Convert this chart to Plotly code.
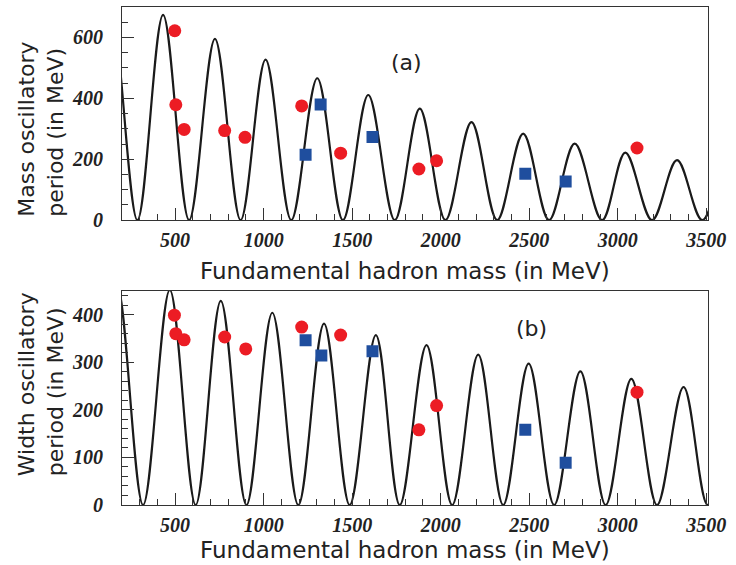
import plotly.graph_objects as go

# ---- curve knots (peaks and zeros) ----
mass_curve_x = [0, 141, 287, 432, 579, 725, 870, 1011, 1156, 1303, 1448, 1591, 1741,
                1882, 2027, 2174, 2319, 2466, 2612, 2757, 2912, 3043, 3194, 3335, 3478, 3620, 3770]
mass_curve_y = [0, 675, 0, 674, 0, 595, 0, 527, 0, 466, 0, 411, 0,
                366, 0, 322, 0, 284, 0, 251, 0, 222, 0, 197, 0, 175, 0]

width_curve_x = [25, 172, 319, 470, 616, 758, 903, 1049, 1196, 1341, 1486, 1634, 1769,
                 1920, 2065, 2212, 2353, 2497, 2641, 2789, 2932, 3077, 3222, 3372, 3508, 3650, 3800]
width_curve_y = [0, 462, 0, 452, 0, 429, 0, 404, 0, 381, 0, 357, 0,
                 336, 0, 316, 0, 297, 0, 281, 0, 265, 0, 248, 0, 235, 0]

# ---- points ----
mass_red_x = [498, 504, 551, 780, 895, 1215, 1435, 1877, 1977, 3109]
mass_red_y = [622, 379, 298, 294, 272, 375, 220, 168, 195, 237]
mass_blue_x = [1237, 1322, 1615, 2478, 2706]
mass_blue_y = [215, 380, 273, 152, 127]

width_red_x = [496, 504, 551, 780, 899, 1215, 1435, 1877, 1977, 3109]
width_red_y = [399, 360, 347, 353, 328, 374, 357, 158, 209, 237]
width_blue_x = [1237, 1326, 1615, 2478, 2706]
width_blue_y = [346, 314, 323, 158, 89]

x_title = "Fundamental hadron mass (in MeV)"
y_title_a = "Mass oscillatory<br>period (in MeV)"
y_title_b = "Width oscillatory<br>period (in MeV)"

RED = "#ec1c24"
BLUE = "#1f4e9e"

fig = go.Figure()

def add_panel(cx, cy, rx, ry, bx, by, xa, ya):
    fig.add_trace(go.Scatter(x=cx, y=cy, mode="lines", line=dict(color="#1a1a1a", width=2.2,
                  shape="spline", smoothing=1), xaxis=xa, yaxis=ya, showlegend=False,
                  hoverinfo="skip"))
    fig.add_trace(go.Scatter(x=rx, y=ry, mode="markers", marker=dict(color=RED, size=13,
                  symbol="circle", line=dict(width=0)), xaxis=xa, yaxis=ya, showlegend=False))
    fig.add_trace(go.Scatter(x=bx, y=by, mode="markers", marker=dict(color=BLUE, size=12,
                  symbol="square", line=dict(width=0)), xaxis=xa, yaxis=ya, showlegend=False))

add_panel(mass_curve_x, mass_curve_y, mass_red_x, mass_red_y, mass_blue_x, mass_blue_y, "x", "y")
add_panel(width_curve_x, width_curve_y, width_red_x, width_red_y, width_blue_x, width_blue_y, "x2", "y2")

tickfont = dict(family="Liberation Serif", size=20, color="#222222", weight="bold", style="italic")
FONT = "DejaVu Sans"
TXT = "#222222"

def xaxis_def(anchor):
    return dict(anchor=anchor, range=[200, 3510], tick0=500, dtick=500, ticks="inside",
                ticklen=12, tickwidth=1.2, tickcolor="#333", showline=True, linecolor="#333",
                linewidth=1.2, mirror=True, showgrid=False, zeroline=False, tickfont=tickfont,
                ticklabelstandoff=2, domain=[0, 1],
                minor=dict(dtick=100, ticks="inside", ticklen=6, tickcolor="#333", tickwidth=1))

def yaxis_def(anchor, rng, dtick, minor, domain):
    return dict(anchor=anchor, range=rng, dtick=dtick, ticks="inside", ticklen=12,
                tickwidth=1.2, tickcolor="#333", showline=True, linecolor="#333",
                linewidth=1.2, mirror=True, showgrid=False, zeroline=False, tickfont=tickfont,
                ticklabelstandoff=14, domain=domain,
                minor=dict(dtick=minor, ticks="inside", ticklen=6, tickcolor="#333", tickwidth=1))

annotations = [
    dict(text="(a)", x=1807, y=519, xref="x", yref="y", showarrow=False,
         font=dict(family=FONT, size=22, color=TXT)),
    dict(text="(b)", x=2513, y=371, xref="x2", yref="y2", showarrow=False,
         font=dict(family=FONT, size=22, color=TXT)),
    dict(text=x_title, x=0.483, y=0.470, xref="paper", yref="paper", showarrow=False,
         xanchor="center", yanchor="middle", font=dict(family=FONT, size=23, color=TXT)),
    dict(text=x_title, x=0.483, y=-0.091, xref="paper", yref="paper", showarrow=False,
         xanchor="center", yanchor="middle", font=dict(family=FONT, size=23, color=TXT)),
    dict(text=y_title_a, x=-0.138, y=0.574, xref="paper", yref="paper", showarrow=False,
         textangle=-90, align="left", xanchor="center", yanchor="bottom",
         font=dict(family=FONT, size=22, color=TXT)),
    dict(text=y_title_b, x=-0.138, y=0.054, xref="paper", yref="paper", showarrow=False,
         textangle=-90, align="left", xanchor="center", yanchor="bottom",
         font=dict(family=FONT, size=22, color=TXT)),
]

fig.update_layout(
    width=736, height=565,
    margin=dict(l=122, r=28, t=7, b=60),
    paper_bgcolor="white", plot_bgcolor="white",
    xaxis=xaxis_def("y"),
    xaxis2=xaxis_def("y2"),
    yaxis=yaxis_def("x", [0, 700], 200, 50, [0.572, 1.0]),
    yaxis2=yaxis_def("x2", [0, 450], 100, 20, [0.0, 0.430]),
    annotations=annotations,
)

fig.write_html("out.html")
